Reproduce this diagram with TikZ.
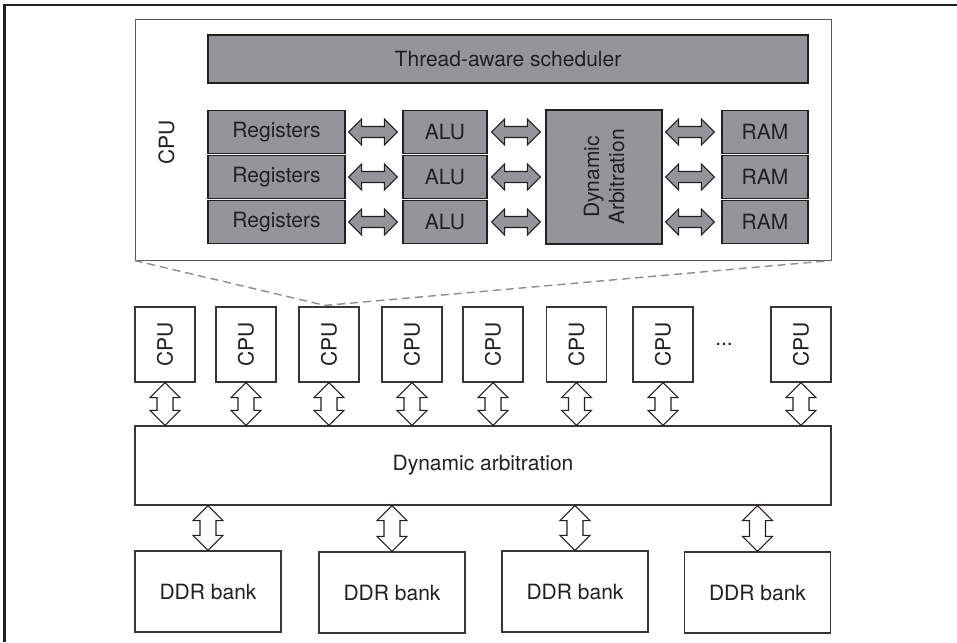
\documentclass[tikz,border=0pt]{standalone}
\usepackage{fontspec}
\setmainfont{TeX Gyre Heros}
\usetikzlibrary{calc}
\definecolor{boxgray}{HTML}{939598}
\definecolor{ink}{HTML}{231F20}
\definecolor{edgegray}{HTML}{58595B}
\definecolor{dashgray}{HTML}{8A8C8E}
\tikzset{
  every node/.style={font=\fontsize{21}{25}\selectfont, text=ink},
  graybox/.style={draw=ink, fill=boxgray, line width=1.3pt, inner sep=0pt},
  whitebox/.style={draw=ink!90, fill=white, line width=1.2pt, inner sep=0pt},
  framebox/.style={draw=edgegray, fill=white, line width=1pt, inner sep=0pt},
  hda/.style={draw=ink, fill=boxgray, line width=1.1pt, line join=miter},
  vda/.style={draw=ink, fill=white, line width=1.1pt, line join=miter},
  zoomline/.style={draw=dashgray, line width=1.4pt, dash pattern=on 8pt off 5pt},
}
\newcommand\hdarr[2]{%
  \draw[hda] (#1) -- ($(#1)+(13,-13)$) -- ($(#1)+(13,-5.5)$) -- ($(#2)+(-13,-5.5)$)
    -- ($(#2)+(-13,-13)$) -- (#2) -- ($(#2)+(-13,13)$) -- ($(#2)+(-13,5.5)$)
    -- ($(#1)+(13,5.5)$) -- ($(#1)+(13,13)$) -- cycle;}
\newcommand\vdarr[2]{%
  \draw[vda] (#1) -- ($(#1)+(15,15)$) -- ($(#1)+(8,15)$) -- ($(#2)+(8,-15)$)
    -- ($(#2)+(15,-15)$) -- (#2) -- ($(#2)+(-15,-15)$) -- ($(#2)+(-8,-15)$)
    -- ($(#1)+(-8,15)$) -- ($(#1)+(-15,15)$) -- cycle;}
\begin{document}
\begin{tikzpicture}[x=1pt,y=-1pt]
\useasboundingbox (0,0) rectangle (957,642);
% outer frame
\draw[ink, line width=2.5pt, line join=miter] (957,5) -- (4.5,5) -- (4.5,642);

% enlarged CPU
\node[framebox, minimum width=696pt, minimum height=240pt] (big) at (483,140) {};
\node[rotate=90] (biglabel) at (166.5,142.5) {CPU};
\node[graybox, minimum width=600pt, minimum height=48pt] (sched) at (508,59) {Thread-aware scheduler};
\foreach \i/\y in {1/132,2/177,3/222}{
  \node[graybox, minimum width=137pt, minimum height=43pt] (r\i) at (276.5,\y) {Registers};
  \node[graybox, minimum width=84pt, minimum height=43pt] (a\i) at (445,\y) {ALU};
  \node[graybox, minimum width=86pt, minimum height=43pt] (m\i) at (765,\y) {RAM};
}
\node[graybox, minimum width=116pt, minimum height=134pt] (da) at (604,177) {};
\node[rotate=90, align=center] (datext) at (da.center) {Dynamic\\Arbitration};
\foreach \i in {1,2,3}{
  \coordinate (p\i) at ($(r\i.east)+(3,0)$);
  \coordinate (q\i) at ($(a\i.west)+(-5,0)$);
  \hdarr{p\i}{q\i}
  \coordinate (s\i) at ($(a\i.east)+(4,0)$);
  \coordinate (t\i) at ($(da.west |- a\i.east)+(-5,0)$);
  \hdarr{s\i}{t\i}
  \coordinate (u\i) at ($(da.east |- m\i.west)+(3,0)$);
  \coordinate (v\i) at ($(m\i.west)+(-7,0)$);
  \hdarr{u\i}{v\i}
}

% CPU row
\foreach \i/\x in {1/165,2/246,3/329,4/412,5/493,6/576.5,7/663,8/801}{
  \node[whitebox, minimum width=60pt, minimum height=75pt] (c\i) at (\x,344.5) {};
  \node[rotate=90] (cl\i) at (c\i.center) {CPU};
}
\node[anchor=base] (dots) at (724,345) {...};

% zoom lines
\coordinate (ztip) at ($(c3.north)+(-4,-1)$);
\draw[zoomline] (big.north west |- big.south) -- (ztip) -- (big.south east);

% arbitration
\node[whitebox, minimum width=696pt, minimum height=79pt] (arb) at (483,465.5) {Dynamic arbitration};
\foreach \i in {1,...,8}{
  \coordinate (cb\i) at (c\i.south |- arb.north);
  \vdarr{c\i.south}{cb\i}
}

% DDR banks
\foreach \i/\x/\y in {1/208/591.5,2/392/592.5,3/575/591.5,4/757.5/592.5}{
  \node[whitebox, minimum width=146pt, minimum height=81pt] (d\i) at (\x,\y) {DDR bank};
  \coordinate (dt\i) at (d\i.north |- arb.south);
  \vdarr{dt\i}{d\i.north}
}
\end{tikzpicture}
\end{document}
